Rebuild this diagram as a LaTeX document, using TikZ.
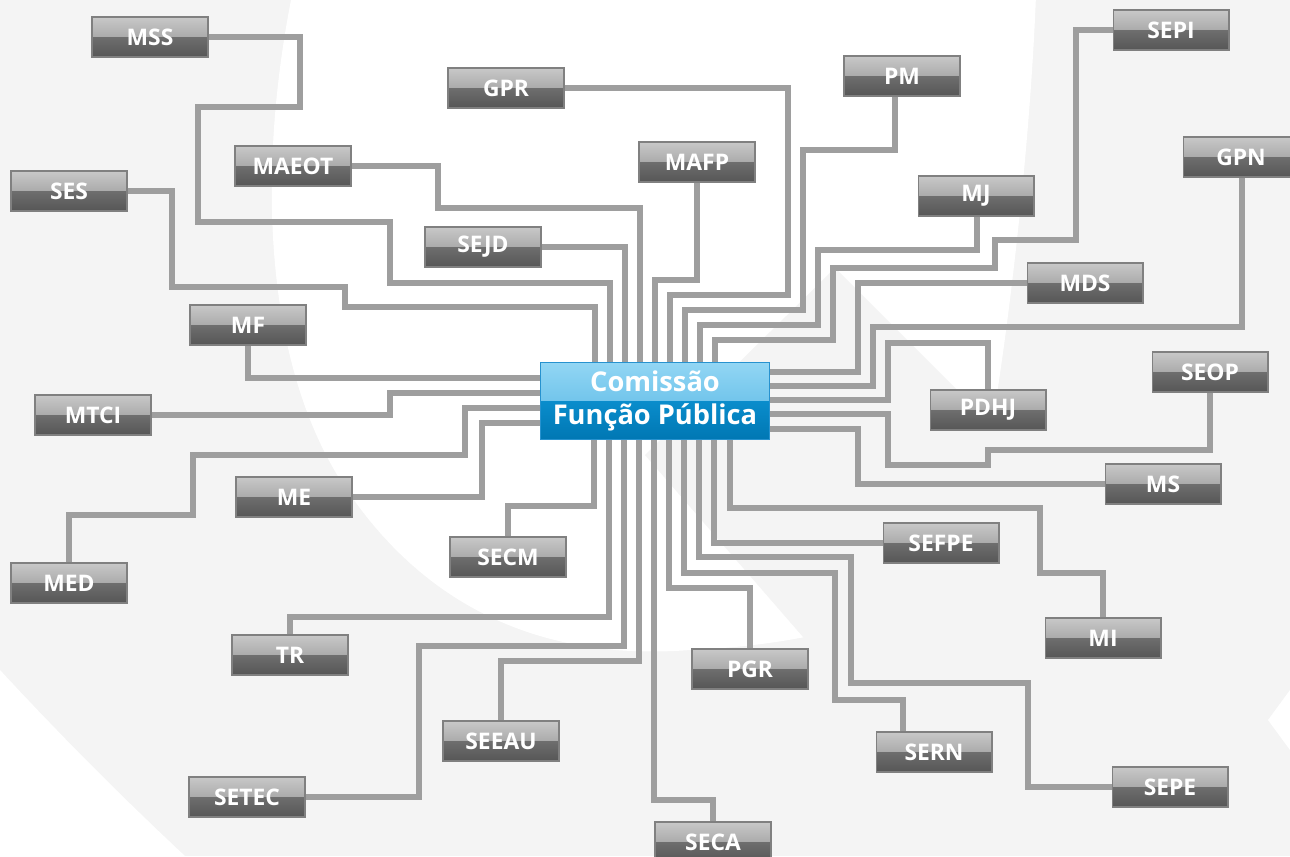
\documentclass[tikz,border=0pt]{standalone}
\usepackage{fontspec}
\setmainfont{Open Sans}
\definecolor{bggray}{HTML}{F4F4F4}
\definecolor{wiregray}{HTML}{9E9E9E}
\definecolor{boxedge}{HTML}{808080}
\definecolor{gtop}{HTML}{C8C8C8}
\definecolor{gmid}{HTML}{8E8E8E}
\definecolor{gdark}{HTML}{6E6E6E}
\definecolor{gbot}{HTML}{565656}
\definecolor{htop}{HTML}{92D6F4}
\definecolor{hmid}{HTML}{52B4E3}
\definecolor{hdark}{HTML}{0A8DCC}
\definecolor{hbot}{HTML}{0077B3}
\definecolor{hubedge}{HTML}{2792CF}

\begin{document}
\begin{tikzpicture}[x=0.02cm,y=-0.02cm,
  orgbox/.style={draw=boxedge,line width=0.6pt,minimum width=2.32cm,minimum height=0.8cm,inner sep=0pt,
    text=white,font=\fontsize{13}{15}\selectfont\bfseries,
    path picture={\shade[top color=gtop,bottom color=gmid] (path picture bounding box.north west) rectangle (path picture bounding box.east);
      \shade[top color=gdark,bottom color=gbot] (path picture bounding box.west) rectangle (path picture bounding box.south east);}},
  hub/.style={draw=hubedge,line width=0.8pt,minimum width=4.58cm,minimum height=1.54cm,inner sep=0pt,align=center,
    text=white,font=\fontsize{15.5}{18.5}\selectfont\bfseries,
    path picture={\shade[top color=htop,bottom color=hmid] (path picture bounding box.north west) rectangle (path picture bounding box.east);
      \shade[top color=hdark,bottom color=hbot] (path picture bounding box.west) rectangle (path picture bounding box.south east);}},
  wire/.style={draw=wiregray,line width=2.9pt}]

\useasboundingbox (0,0) rectangle (1290,856);
\clip (0,0) rectangle (1290,856);

\fill[bggray] (0,0) rectangle (1290,856);
\fill[white] (292,-5) .. controls (255,180) and (265,380) .. (354,500) .. controls (440,620) and (560,660) .. (690,650)
  .. controls (740,648) and (780,642) .. (810,636) -- (990,600) -- (992,425) .. controls (1008,330) and (1030,150) .. (1036,-5) -- cycle;
\fill[bggray] (835,268) -- (645,455) -- (810,645) -- (1100,645) -- (1100,533) -- cycle;
\fill[white] (0,670) .. controls (60,735) and (125,800) .. (185,856) -- (0,856) -- cycle;
\fill[white] (1290,690) -- (1268,720) -- (1290,750) -- cycle;

\node (cfp) at (655,401) [hub] {Comissão\\Função Pública};

\node (mss) at (150,37) [orgbox] {MSS};
\node (gpr) at (506,88) [orgbox] {GPR};
\node (pm) at (902,76) [orgbox] {PM};
\node (sepi) at (1171,30) [orgbox] {SEPI};
\node (maeot) at (293,166) [orgbox] {MAEOT};
\node (mafp) at (697,162) [orgbox] {MAFP};
\node (gpn) at (1241,157) [orgbox] {GPN};
\node (ses) at (69,191) [orgbox] {SES};
\node (mj) at (976,196) [orgbox] {MJ};
\node (sejd) at (483,247) [orgbox] {SEJD};
\node (mds) at (1085,283) [orgbox] {MDS};
\node (mf) at (248,325) [orgbox] {MF};
\node (seop) at (1210,372) [orgbox] {SEOP};
\node (pdhj) at (988,410) [orgbox] {PDHJ};
\node (mtci) at (93,415) [orgbox] {MTCI};
\node (ms) at (1163,484) [orgbox] {MS};
\node (me) at (294,497) [orgbox] {ME};
\node (sefpe) at (941,543) [orgbox] {SEFPE};
\node (secm) at (508,557) [orgbox] {SECM};
\node (med) at (69,583) [orgbox] {MED};
\node (mi) at (1103,638) [orgbox] {MI};
\node (tr) at (290,655) [orgbox] {TR};
\node (pgr) at (750,669) [orgbox] {PGR};
\node (seeau) at (501,741) [orgbox] {SEEAU};
\node (sern) at (934,752) [orgbox] {SERN};
\node (setec) at (247,797) [orgbox] {SETEC};
\node (sepe) at (1170,787) [orgbox] {SEPE};
\node (seca) at (713,842) [orgbox] {SECA};

\draw [wire] (ses.east) -| (172,287) -| (345,307) -| (cfp.north -| 595,0);
\draw [wire] (mss.east) -| (300,107) -| (198,222) -| (390,283) -| (cfp.north -| 610,0);
\draw [wire] (sejd.east) -| (cfp.north -| 625,0);
\draw [wire] (maeot.east) -| (438,208) -| (cfp.north -| 640,0);
\draw [wire] (mafp.south) |- (655,280) -- (cfp.north -| 655,0);
\draw [wire] (gpr.east) -| (788,295) -| (cfp.north -| 670,0);
\draw [wire] (pm.south -| 895,0) |- (803,150) |- (685,310) -- (cfp.north -| 685,0);
\draw [wire] (mj.south -| 977,0) |- (818,250) |- (700,325) -- (cfp.north -| 700,0);
\draw [wire] (sepi.west) -| (1076,240) -| (995,268) -| (833,340) -| (cfp.north -| 715,0);

\draw [wire] (mds.west) -| (858,372) -- (cfp.east |- 0,372);
\draw [wire] (gpn.south -| 1242,0) |- (873,327) |- (cfp.east |- 0,386);
\draw [wire] (pdhj.north) |- (888,343) |- (cfp.east |- 0,400);
\draw [wire] (seop.south) |- (988,450) |- (888,465) |- (cfp.east |- 0,414);
\draw [wire] (ms.west) -| (858,429) -- (cfp.east |- 0,429);

\draw [wire] (mf.south) |- (cfp.west |- 0,378);
\draw [wire] (mtci.east) -| (390,393) -- (cfp.west |- 0,393);
\draw [wire] (med.north) |- (193,515) |- (465,455) |- (cfp.west |- 0,408);
\draw [wire] (me.east) -| (482,423) -- (cfp.west |- 0,423);

\draw [wire] (secm.north) |- (594,506) -- (cfp.south -| 594,0);
\draw [wire] (tr.north) |- (609,617) -- (cfp.south -| 609,0);
\draw [wire] (setec.east) -| (419,646) -| (cfp.south -| 624,0);
\draw [wire] (seeau.north) |- (639,661) -- (cfp.south -| 639,0);
\draw [wire] (seca.north) |- (654,800) -- (cfp.south -| 654,0);
\draw [wire] (pgr.north) |- (669,588) -- (cfp.south -| 669,0);
\draw [wire] (sern.north -| 903,0) |- (835,700) |- (684,573) -- (cfp.south -| 684,0);
\draw [wire] (sepe.west) -| (1028,683) -| (851,557) -| (cfp.south -| 699,0);
\draw [wire] (sefpe.west) -| (cfp.south -| 714,0);
\draw [wire] (mi.north) |- (1040,573) |- (730,508) -- (cfp.south -| 730,0);

\end{tikzpicture}
\end{document}
